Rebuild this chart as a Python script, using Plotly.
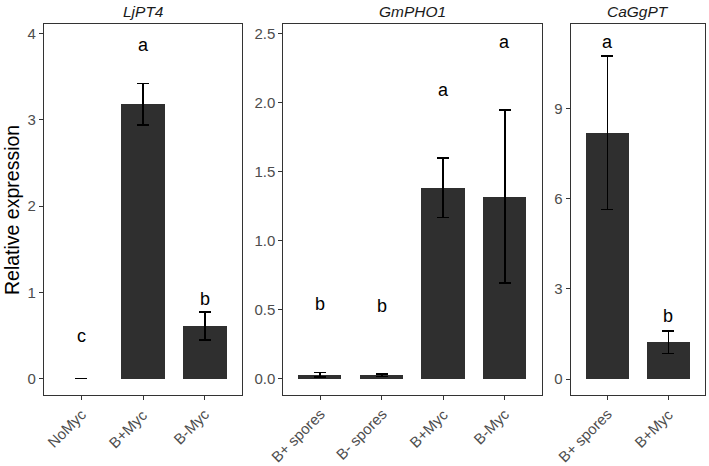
import plotly.graph_objects as go

W, H = 709, 466

# Data
genes = ["LjPT4", "GmPHO1", "CaGgPT"]
cats_lj = ["NoMyc", "B+Myc", "B-Myc"]
vals_lj = [0.0, 3.18, 0.61]
err_lj = [0.0, 0.24, 0.16]
let_lj = ["c", "a", "b"]
lety_lj = [0.49, 3.87, 0.92]

cats_gm = ["B+ spores", "B- spores", "B+Myc", "B-Myc"]
vals_gm = [0.030, 0.025, 1.384, 1.32]
err_gm = [0.016, 0.008, 0.215, 0.625]
let_gm = ["b", "b", "a", "a"]
lety_gm = [0.54, 0.53, 2.09, 2.44]

cats_ca = ["B+ spores", "B+Myc"]
vals_ca = [8.19, 1.22]
err_ca = [2.55, 0.37]
let_ca = ["a", "b"]
lety_ca = [11.2, 2.1]

yranges = [[-0.19, 4.11], [-0.118, 2.57], [-0.53, 11.8]]
yticks = [[0, 1, 2, 3, 4], [0.0, 0.5, 1.0, 1.5, 2.0, 2.5], [0, 3, 6, 9]]
yticktext = [["0", "1", "2", "3", "4"], ["0.0", "0.5", "1.0", "1.5", "2.0", "2.5"], ["0", "3", "6", "9"]]

panels_px = [(44, 242), (283.3, 541.7), (570.7, 705)]
ytop, ybot = 24, 395

FONT = "Liberation Sans, Arial, sans-serif"
BAR = "#2f2f2f"
AX = "#333333"
TICKC = "#4d4d4d"

fig = go.Figure()
data = [(cats_lj, vals_lj, err_lj, let_lj, lety_lj),
        (cats_gm, vals_gm, err_gm, let_gm, lety_gm),
        (cats_ca, vals_ca, err_ca, let_ca, lety_ca)]

annotations = []
for i, (cats, vals, errs, lets, letys) in enumerate(data):
    xs = list(range(1, len(cats) + 1))
    xa = "x" if i == 0 else f"x{i+1}"
    ya = "y" if i == 0 else f"y{i+1}"
    fig.add_trace(go.Bar(
        x=xs, y=vals, width=0.7, marker=dict(color=BAR, line=dict(width=0)),
        error_y=dict(type="data", array=errs, visible=True, color="black",
                     thickness=1.6, width=6),
        xaxis=xa, yaxis=ya, showlegend=False, hoverinfo="skip"))
    for xv, l, ly in zip(xs, lets, letys):
        annotations.append(dict(x=xv, y=ly, xref=xa, yref=ya, text=l, showarrow=False,
                                font=dict(family=FONT, size=18, color="black"),
                                xanchor="center", yanchor="middle"))
    # rotated category labels
    for xv, c in zip(xs, cats):
        annotations.append(dict(x=xv, y=1 - 404 / H, xref=xa, yref="paper", text=c,
                                textangle=-45, showarrow=False, xshift=9,
                                font=dict(family=FONT, size=15, color=TICKC),
                                xanchor="right", yanchor="top", borderpad=0))
    x0, x1 = panels_px[i]
    dom = [x0 / W, x1 / W]
    axkey = "xaxis" if i == 0 else f"xaxis{i+1}"
    aykey = "yaxis" if i == 0 else f"yaxis{i+1}"
    fig.layout[axkey] = dict(
        domain=dom, range=[0.4, len(cats) + 0.6], tickmode="array", tickvals=xs,
        ticktext=[""] * len(cats), showline=True, mirror=True, linecolor=AX,
        linewidth=1.1, ticks="outside", ticklen=4, tickcolor=AX, tickwidth=1.1,
        showgrid=False, zeroline=False, anchor=ya, fixedrange=True, automargin=False)
    fig.layout[aykey] = dict(
        domain=[1 - ybot / H, 1 - ytop / H], range=yranges[i], tickmode="array",
        tickvals=yticks[i], ticktext=yticktext[i], showline=True, mirror=True,
        linecolor=AX, linewidth=1.1, ticks="outside", ticklen=4, tickcolor=AX,
        tickwidth=1.1, showgrid=False, zeroline=False, anchor=xa, fixedrange=True,
        automargin=False, tickfont=dict(family=FONT, size=15, color=TICKC))
    annotations.append(dict(x=(x0 + x1) / 2 / W, y=1 - 11 / H, xref="paper", yref="paper",
                            text=f"<i>{genes[i]}</i>", showarrow=False,
                            font=dict(family=FONT, size=15.5, color="#1a1a1a"),
                            xanchor="center", yanchor="middle"))

annotations.append(dict(x=12 / W, y=1 - 210 / H, xref="paper", yref="paper",
                        text="Relative expression", textangle=-90, showarrow=False,
                        font=dict(family=FONT, size=19.5, color="black"),
                        xanchor="center", yanchor="middle"))

fig.update_layout(width=W, height=H, margin=dict(l=0, r=0, t=0, b=0),
                  plot_bgcolor="white", paper_bgcolor="white",
                  annotations=annotations, bargap=0)
fig.write_html("out.html", config={"displayModeBar": False},
               post_script="document.body.style.margin='0';document.body.style.overflow='hidden';")
